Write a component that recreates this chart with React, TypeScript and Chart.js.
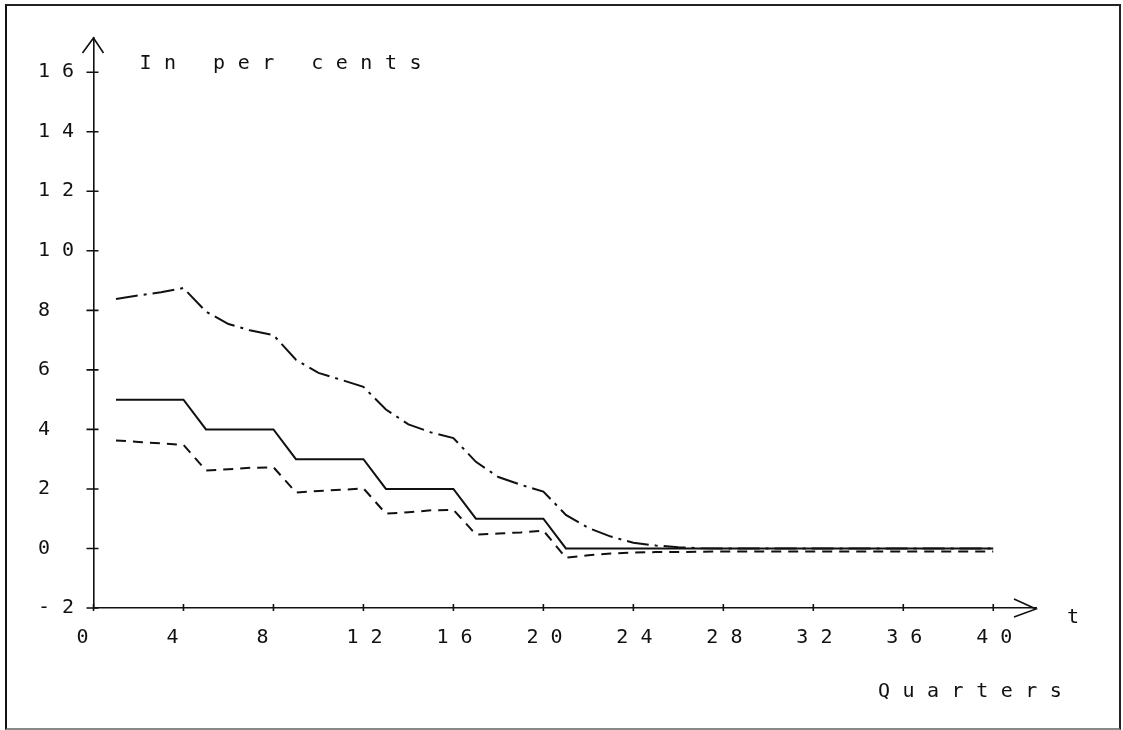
import { useEffect, useRef } from "react";
import { Chart, registerables } from "chart.js";

Chart.register(...registerables);

// Quarters after the shock (t = 1 … 40)
const quarters = [
  1, 2, 3, 4, 5, 6, 7, 8, 9, 10, 11, 12, 13, 14, 15, 16, 17, 18, 19, 20,
  21, 22, 23, 24, 25, 26, 27, 28, 29, 30, 31, 32, 33, 34, 35, 36, 37, 38, 39, 40,
];

// Solid line: step path in per cents
const stepPath = [
  5, 5, 5, 5, 4, 4, 4, 4, 3, 3, 3, 3, 2, 2, 2, 2, 1, 1, 1, 1,
  0, 0, 0, 0, 0, 0, 0, 0, 0, 0, 0, 0, 0, 0, 0, 0, 0, 0, 0, 0,
];

// Dash-dot line: upper path
const upperPath = [
  8.38, 8.5, 8.61, 8.75, 7.96, 7.54, 7.32, 7.17, 6.34, 5.9, 5.67, 5.43, 4.67, 4.17, 3.9, 3.71,
  2.91, 2.4, 2.14, 1.91, 1.13, 0.69, 0.4, 0.19, 0.1, 0.04, 0.01, 0, 0, 0,
  0, 0, 0, 0, 0, 0, 0, 0, 0, 0,
];

// Dashed line: lower path
const lowerPath = [
  3.63, 3.58, 3.53, 3.48, 2.62, 2.66, 2.71, 2.73, 1.88, 1.93, 1.97, 2.02, 1.17, 1.22, 1.28, 1.3,
  0.47, 0.5, 0.54, 0.6, -0.31, -0.23, -0.17, -0.14, -0.12, -0.12, -0.11, -0.1, -0.1, -0.1,
  -0.1, -0.1, -0.1, -0.1, -0.1, -0.1, -0.1, -0.1, -0.1, -0.1,
];

const xTicks = [0, 4, 8, 12, 16, 20, 24, 28, 32, 36, 40];
const yTicks = [-2, 0, 2, 4, 6, 8, 10, 12, 14, 16];

const yTitle = "In per cents";
const xArrowLabel = "t";
const xTitle = "Quarters";

const INK = "#111";
const FONT = "'DejaVu Sans Mono', 'Liberation Mono', monospace";

const spaced = (v: number | string) => String(v).split("").join(" ");

// Plotter-style axis decoration: cross ticks, arrow heads and axis captions
const plotterAxes = {
  id: "plotterAxes",
  afterDraw(chart: any) {
    const { ctx, chartArea, scales } = chart;
    const xs = scales.x;
    const ys = scales.y;
    const ax = xs.getPixelForValue(0);
    const ay = ys.getPixelForValue(-2);
    ctx.save();
    ctx.strokeStyle = INK;
    ctx.lineWidth = 1.6;
    ctx.beginPath();
    for (const v of yTicks) {
      const y = ys.getPixelForValue(v);
      ctx.moveTo(ax - 7, y);
      ctx.lineTo(ax + 5, y);
    }
    for (const v of xTicks) {
      const x = xs.getPixelForValue(v);
      ctx.moveTo(x, ay - 4);
      ctx.lineTo(x, ay + 3);
    }
    // y arrow
    ctx.moveTo(ax - 11, chartArea.top + 15);
    ctx.lineTo(ax, chartArea.top);
    ctx.lineTo(ax + 10, chartArea.top + 15);
    // x arrow
    ctx.moveTo(chartArea.right - 22, ay - 9);
    ctx.lineTo(chartArea.right, ay + 1);
    ctx.lineTo(chartArea.right - 22, ay + 9);
    ctx.stroke();

    ctx.fillStyle = INK;
    ctx.font = `20px ${FONT}`;
    ctx.textAlign = "left";
    ctx.textBaseline = "alphabetic";
    (ctx as any).letterSpacing = "12.5px";
    ctx.fillText(yTitle, chartArea.left + 46, chartArea.top + 31);
    ctx.fillText(xArrowLabel, chartArea.right + 31, ay + 15);
    ctx.fillText(xTitle, chartArea.right - 158, ay + 89);
    ctx.restore();
  },
};

export default function App() {
  const canvasRef = useRef<HTMLCanvasElement | null>(null);

  useEffect(() => {
    const canvas = canvasRef.current;
    if (!canvas) return;

    const series = (values: number[]) => quarters.map((q, i) => ({ x: q, y: values[i] }));

    const chart = new Chart(canvas, {
      type: "line",
      data: {
        datasets: [
          {
            label: "Upper path",
            data: series(upperPath),
            borderColor: INK,
            borderWidth: 2,
            borderDash: [22, 6, 3, 6],
            pointRadius: 0,
            tension: 0,
          },
          {
            label: "Step path",
            data: series(stepPath),
            borderColor: INK,
            borderWidth: 2,
            pointRadius: 0,
            tension: 0,
          },
          {
            label: "Lower path",
            data: series(lowerPath),
            borderColor: INK,
            borderWidth: 2,
            borderDash: [10, 7],
            pointRadius: 0,
            tension: 0,
          },
        ],
      },
      options: {
        responsive: false,
        animation: false,
        devicePixelRatio: 1,
        layout: { padding: { left: 38, top: 38, right: 87, bottom: 0 } },
        plugins: {
          legend: { display: false },
          tooltip: { enabled: false },
          title: { display: false },
        },
        scales: {
          x: {
            type: "linear",
            min: 0,
            max: 41.9,
            grid: { display: false, drawTicks: false },
            border: { display: true, color: INK, width: 1.6 },
            afterBuildTicks: (scale: any) => {
              scale.ticks = xTicks.map((v) => ({ value: v }));
            },
            afterFit: (scale: any) => {
              scale.height = 122;
            },
            ticks: {
              align: "start",
              labelOffset: -17,
              padding: 18,
              color: INK,
              font: { family: FONT, size: 20 },
              maxRotation: 0,
              autoSkip: false,
              callback: (v: any) => spaced(v),
            },
          },
          y: {
            type: "linear",
            min: -2,
            max: 17.15,
            grid: { display: false, drawTicks: false },
            border: { display: true, color: INK, width: 1.6 },
            afterBuildTicks: (scale: any) => {
              scale.ticks = yTicks.map((v) => ({ value: v }));
            },
            afterFit: (scale: any) => {
              scale.width = 55.5;
            },
            ticks: {
              crossAlign: "far",
              padding: 10,
              color: INK,
              font: { family: FONT, size: 20 },
              autoSkip: false,
              callback: (v: any) => spaced(v),
            },
          },
        },
      },
      plugins: [plotterAxes],
    });

    return () => chart.destroy();
  }, []);

  return (
    <div
      style={{
        position: "fixed",
        left: 0,
        top: 0,
        width: 1123,
        height: 730,
        background: "#fff",
        overflow: "hidden",
      }}
    >
      <canvas
        ref={canvasRef}
        width={1123}
        height={730}
        style={{ position: "absolute", left: 0, top: 0, width: 1123, height: 730 }}
      />
      <div
        style={{
          position: "absolute",
          left: 5,
          top: 4,
          width: 1116,
          height: 726,
          boxSizing: "border-box",
          borderTop: "2px solid #222",
          borderLeft: "2px solid #111",
          borderRight: "2px solid #222",
          borderBottom: "2px solid #888",
          pointerEvents: "none",
        }}
      />
    </div>
  );
}
